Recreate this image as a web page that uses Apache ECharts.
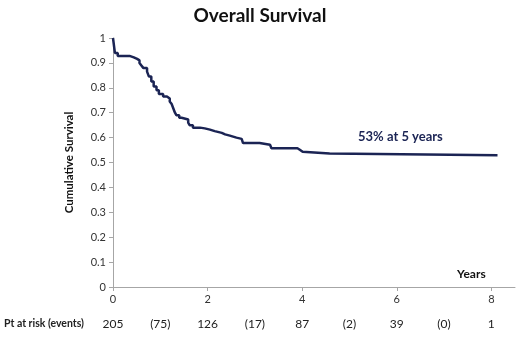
<!DOCTYPE html>
<html>
<head>
<meta charset="utf-8">
<script src="https://cdn.jsdelivr.net/npm/echarts@6/dist/echarts.min.js"></script>
<style>html,body{margin:0;padding:0;background:#fff}#c{width:520px;height:337px}</style>
</head>
<body>
<div id="c"></div>
<script>
// Kaplan-Meier curve (time in years, cumulative survival after each step)
var times = [0, 0.04, 0.1, 0.35, 0.44, 0.51, 0.56, 0.6, 0.64, 0.72, 0.76, 0.81, 0.86, 0.92, 0.97, 1.06, 1.14, 1.2, 1.24, 1.27, 1.31, 1.34, 1.4, 1.45, 1.59, 1.62, 1.69, 1.84, 1.94, 2.05, 2.15, 2.3, 2.37, 2.47, 2.61, 2.72, 2.75, 3.1, 3.32, 3.35, 3.9, 3.95, 4.01, 4.58, 8.13];
var survival = [1.0, 0.94, 0.928, 0.922, 0.916, 0.91, 0.90, 0.89, 0.88, 0.865, 0.845, 0.825, 0.805, 0.79, 0.775, 0.765, 0.757, 0.745, 0.735, 0.72, 0.70, 0.69, 0.68, 0.673, 0.66, 0.65, 0.64, 0.637, 0.632, 0.626, 0.619, 0.613, 0.608, 0.60, 0.595, 0.588, 0.578, 0.571, 0.564, 0.557, 0.551, 0.543, 0.536, 0.529, 0.529];
var xTicks = [0, 2, 4, 6, 8];
var riskPositions = [0, 1, 2, 3, 4, 5, 6, 7, 8];
var riskLabels = ['205', '(75)', '126', '(17)', '87', '(2)', '39', '(0)', '1'];
var titleText = 'Overall Survival';
var annotationText = '53% at 5 years';

var FONT = 'Lato, "Open Sans", sans-serif';
var navy = '#1b2454';
var chart = echarts.init(document.getElementById('c'), null, {renderer: 'canvas'});
var data = times.map(function (t, i) { return [t, survival[i]]; });

chart.setOption({
  animation: false,
  backgroundColor: '#fff',
  textStyle: {fontFamily: FONT},
  title: {
    text: titleText, left: 'center', top: 1,
    textStyle: {fontFamily: FONT, fontSize: 19, fontWeight: 'bold', color: '#111'}
  },
  grid: {left: 113, right: 5, top: 38, bottom: 50, containLabel: false, outerBoundsMode: 'none'},
  xAxis: [{
    type: 'value', min: 0, max: 8.5, position: 'bottom',
    axisLine: {show: true, lineStyle: {color: '#a6a6a6', width: 1}},
    axisTick: {show: true, length: 4, lineStyle: {color: '#a6a6a6'}, customValues: xTicks},
    axisLabel: {customValues: xTicks, color: '#333', fontSize: 11, margin: 7, fontFamily: FONT},
    splitLine: {show: false}
  }, {
    type: 'value', min: 0, max: 8.5, position: 'bottom', offset: 37,
    name: 'Pt at risk (events)', nameLocation: 'start', nameGap: 29,
    nameTextStyle: {fontFamily: FONT, fontSize: 10.5, fontWeight: 'bold', color: '#222', verticalAlign: 'middle'},
    axisLine: {show: false}, axisTick: {show: false}, splitLine: {show: false},
    axisLabel: {
      customValues: riskPositions, margin: 0, verticalAlign: 'middle',
      color: '#222', fontSize: 12, fontFamily: FONT,
      formatter: function (v) { var i = riskPositions.indexOf(v); return i >= 0 ? riskLabels[i] : ''; }
    }
  }],
  yAxis: {
    type: 'value', min: 0, max: 1, interval: 0.1,
    name: 'Cumulative Survival', nameLocation: 'middle', nameGap: 38, nameRotate: 90,
    nameTextStyle: {fontFamily: FONT, fontSize: 11.5, fontWeight: 'bold', color: '#111'},
    axisLine: {show: true, lineStyle: {color: '#a6a6a6', width: 1}},
    axisTick: {show: true, length: 4, lineStyle: {color: '#a6a6a6'}},
    axisLabel: {color: '#333', fontSize: 11, margin: 7, fontFamily: FONT},
    splitLine: {show: false}
  },
  series: [{
    type: 'line', step: 'end', data: data, xAxisIndex: 0,
    showSymbol: false, symbol: 'none',
    lineStyle: {color: navy, width: 2.5}
  }],
  graphic: [{
    type: 'text', left: 358, top: 130,
    style: {text: annotationText, fill: navy, font: 'bold 13px ' + FONT}
  }, {
    type: 'text', left: 457, top: 268,
    style: {text: 'Years', fill: '#111', font: 'bold 12px ' + FONT}
  }]
});
</script>
</body>
</html>
